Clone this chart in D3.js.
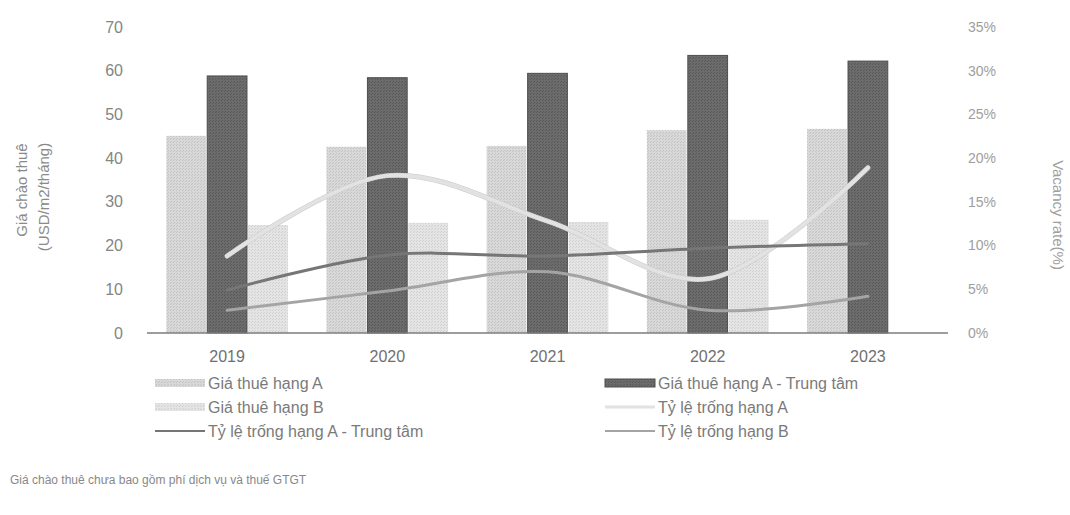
<!DOCTYPE html>
<html>
<head>
<meta charset="utf-8">
<script src="https://cdn.jsdelivr.net/npm/d3@7"></script>
<style>
  body { margin: 0; background: #fff; }
  svg text { font-family: "Liberation Sans", Arial, sans-serif; }
</style>
</head>
<body>
<div id="chart"></div>
<script>
const years = ['2019', '2020', '2021', '2022', '2023'];
const rentA = [45.1, 42.6, 42.8, 46.4, 46.7];
const rentACenter = [58.8, 58.4, 59.4, 63.5, 62.2];
const rentB = [24.7, 25.2, 25.4, 25.9, null];
const vacA = [8.8, 18.0, 12.8, 6.2, 18.9];
const vacACenter = [4.9, 8.9, 8.8, 9.7, 10.2];
const vacB = [2.6, 4.8, 7.0, 2.6, 4.2];
const leftTicks = [0, 10, 20, 30, 40, 50, 60, 70];
const rightTicks = [0, 5, 10, 15, 20, 25, 30, 35];

const width = 1070, height = 515;
const plot = { left: 147, right: 948, top: 27, bottom: 333 };

const svg = d3.select('#chart').append('svg')
    .attr('width', width)
    .attr('height', height);

// texture patterns for the bars
const defs = svg.append('defs');
function pattern(id, base, dot) {
    const p = defs.append('pattern')
        .attr('id', id)
        .attr('width', 3).attr('height', 3)
        .attr('patternUnits', 'userSpaceOnUse');
    p.append('rect').attr('width', 3).attr('height', 3).attr('fill', base);
    p.append('rect').attr('width', 1).attr('height', 1).attr('fill', dot);
    p.append('rect').attr('x', 2).attr('y', 1).attr('width', 1).attr('height', 1).attr('fill', dot);
}
pattern('pA', '#d8d8d8', '#c2c2c2');
pattern('pAC', '#6c6c6c', '#585858');
pattern('pB', '#e4e4e4', '#d0d0d0');

const barSeries = [
    { name: 'Giá thuê hạng A', values: rentA, fill: 'url(#pA)', stroke: 'none' },
    { name: 'Giá thuê hạng A - Trung tâm', values: rentACenter, fill: 'url(#pAC)', stroke: '#4e4e4e' },
    { name: 'Giá thuê hạng B', values: rentB, fill: 'url(#pB)', stroke: 'none' }
];
const lineSeries = [
    { name: 'Tỷ lệ trống hạng A', values: vacA, color: '#e2e2e2', w: 4 },
    { name: 'Tỷ lệ trống hạng A - Trung tâm', values: vacACenter, color: '#767676', w: 3 },
    { name: 'Tỷ lệ trống hạng B', values: vacB, color: '#a4a4a4', w: 3 }
];

const x0 = d3.scaleBand()
    .domain(years)
    .range([plot.left, plot.right])
    .paddingInner(0.225)
    .paddingOuter(0.1125);
const x1 = d3.scaleBand()
    .domain(barSeries.map(s => s.name))
    .range([0, x0.bandwidth()])
    .padding(0.03);
const y = d3.scaleLinear().domain([0, 70]).range([plot.bottom, plot.top]);
const y2 = d3.scaleLinear().domain([0, 35]).range([plot.bottom, plot.top]);

// bars
barSeries.forEach(s => {
    svg.append('g').selectAll('rect')
        .data(years.map((yr, i) => ({ yr, v: s.values[i] })).filter(d => d.v != null))
        .enter().append('rect')
        .attr('x', d => x0(d.yr) + x1(s.name))
        .attr('y', d => y(d.v))
        .attr('width', x1.bandwidth())
        .attr('height', d => y(0) - y(d.v))
        .attr('fill', s.fill)
        .attr('stroke', s.stroke)
        .attr('stroke-width', 1);
});

// bottom axis line
svg.append('line')
    .attr('x1', plot.left).attr('x2', plot.right)
    .attr('y1', plot.bottom).attr('y2', plot.bottom)
    .attr('stroke', '#7d7d7d').attr('stroke-width', 1.5);

// lines
const cx = yr => x0(yr) + x0.bandwidth() / 2;
lineSeries.forEach(s => {
    const line = d3.line()
        .x((d, i) => cx(years[i]))
        .y(d => y2(d))
        .curve(d3.curveCatmullRom);
    if (s.w > 3) {
        svg.append('path')
            .datum(s.values)
            .attr('d', line)
            .attr('fill', 'none')
            .attr('stroke', '#cacaca')
            .attr('stroke-width', s.w + 1)
            .attr('stroke-linecap', 'round');
    }
    svg.append('path')
        .datum(s.values)
        .attr('d', line)
        .attr('fill', 'none')
        .attr('stroke', s.color)
        .attr('stroke-width', s.w)
        .attr('stroke-linecap', 'round');
});

// left ticks
svg.append('g').selectAll('text')
    .data(leftTicks)
    .enter().append('text')
    .attr('x', 123)
    .attr('y', d => y(d))
    .attr('dy', '0.35em')
    .attr('text-anchor', 'end')
    .attr('fill', '#858585')
    .style('font-size', '16px')
    .text(d => d);

// right ticks
svg.append('g').selectAll('text')
    .data(rightTicks)
    .enter().append('text')
    .attr('x', 968)
    .attr('y', d => y2(d))
    .attr('dy', '0.35em')
    .attr('text-anchor', 'start')
    .attr('fill', '#9e9e9e')
    .style('font-size', '14px')
    .text(d => d + '%');

// x labels
svg.append('g').selectAll('text')
    .data(years)
    .enter().append('text')
    .attr('x', d => cx(d))
    .attr('y', 356)
    .attr('dy', '0.35em')
    .attr('text-anchor', 'middle')
    .attr('fill', '#707070')
    .style('font-size', '16px')
    .text(d => d);

// axis titles
svg.append('text')
    .attr('transform', 'translate(22,190) rotate(-90)')
    .attr('text-anchor', 'middle')
    .attr('dy', '0.35em')
    .attr('fill', '#8a8a8a')
    .style('font-size', '15px')
    .text('Giá chào thuê');
svg.append('text')
    .attr('transform', 'translate(44,197) rotate(-90)')
    .attr('text-anchor', 'middle')
    .attr('dy', '0.35em')
    .attr('fill', '#8a8a8a')
    .style('font-size', '15px')
    .text('(USD/m2/tháng)');
svg.append('text')
    .attr('transform', 'translate(1058,215) rotate(90)')
    .attr('text-anchor', 'middle')
    .attr('dy', '0.35em')
    .attr('fill', '#a0a0a0')
    .style('font-size', '15px')
    .text('Vacancy rate(%)');

// legend
const legendItems = [
    { s: barSeries[0], type: 'bar', col: 0, row: 0 },
    { s: barSeries[1], type: 'bar', col: 1, row: 0 },
    { s: barSeries[2], type: 'bar', col: 0, row: 1 },
    { s: lineSeries[0], type: 'line', col: 1, row: 1 },
    { s: lineSeries[1], type: 'line', col: 0, row: 2 },
    { s: lineSeries[2], type: 'line', col: 1, row: 2 }
];
const colX = [155, 605];
const rowY = [383, 407, 431];
const lg = svg.append('g');
legendItems.forEach(it => {
    const gx = colX[it.col], gy = rowY[it.row];
    if (it.type === 'bar') {
        lg.append('rect')
            .attr('x', gx).attr('y', gy - 4)
            .attr('width', 50).attr('height', 8)
            .attr('fill', it.s.fill)
            .attr('stroke', it.s.stroke);
    } else {
        lg.append('line')
            .attr('x1', gx).attr('x2', gx + 50)
            .attr('y1', gy).attr('y2', gy)
            .attr('stroke', it.s.color)
            .attr('stroke-width', it.s.w - 1);
    }
    lg.append('text')
        .attr('x', gx + 53)
        .attr('y', gy)
        .attr('dy', '0.35em')
        .attr('fill', '#7a7a7a')
        .style('font-size', '16px')
        .text(it.s.name);
});

// footnote
svg.append('text')
    .attr('x', 10)
    .attr('y', 480)
    .attr('dy', '0.35em')
    .attr('fill', '#888')
    .style('font-size', '12px')
    .text('Giá chào thuê chưa bao gồm phí dịch vụ và thuế GTGT');
</script>
</body>
</html>
